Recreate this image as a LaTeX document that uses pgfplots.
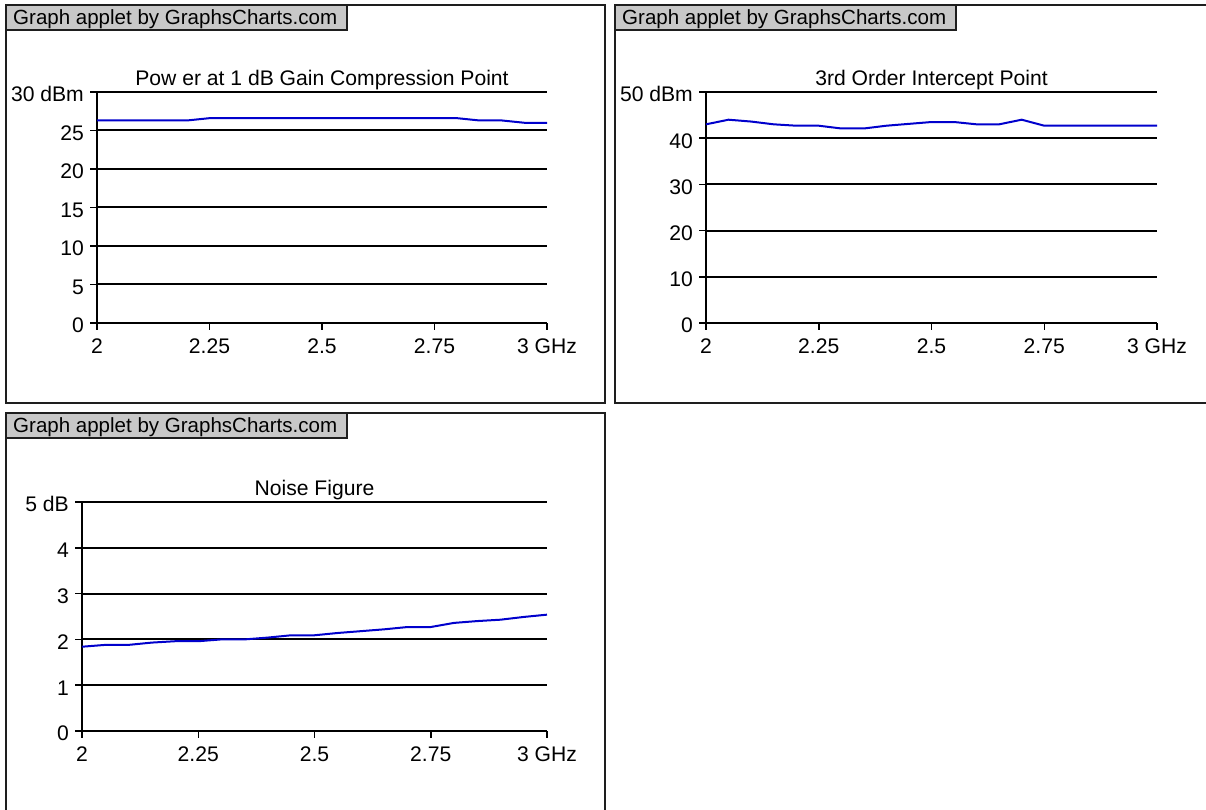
\documentclass[border=0pt]{standalone}
\usepackage{fontspec}
\setmainfont{Liberation Sans}
\usepackage{pgfplots}
\usepackage{pgfplotstable}
\pgfplotsset{compat=1.18}
\definecolor{linecol}{RGB}{0,0,204}
\definecolor{boxgray}{RGB}{200,200,200}
\definecolor{framecol}{RGB}{30,30,30}
\pgfplotsset{
  panel/.style={
    scale only axis,
    anchor=south west,
    axis x line=bottom,
    axis y line=left,
    axis line style={-, black, line width=2bp},
    xmin=2, xmax=3,
    xtick={2,2.25,2.5,2.75,3},
    tick align=outside,
    major tick length=7bp,
    tick style={black, line width=1.5bp},
    ymajorgrids,
    grid style={black, line width=2bp},
    font=\fontsize{21.2}{24}\selectfont,
    ticklabel style={font=\fontsize{21.2}{24}\selectfont, inner sep=0pt},
    xticklabel style={anchor=base, yshift=-24bp},
    yticklabel style={anchor=base east, xshift=-6bp, yshift=-10bp},
    title style={at={(0.5,1)}, anchor=base, yshift=1bp, inner sep=0pt, font=\fontsize{21.2}{24}\selectfont},
    clip=false,
  },
  dataline/.style={linecol, line width=2bp, no marks},
}
\pgfplotstableread{
x y
2.00 26.3
2.05 26.3
2.10 26.3
2.15 26.3
2.20 26.3
2.25 26.6
2.30 26.6
2.35 26.6
2.40 26.6
2.45 26.6
2.50 26.6
2.55 26.6
2.60 26.6
2.65 26.6
2.70 26.6
2.75 26.6
2.80 26.6
2.85 26.3
2.90 26.3
2.95 26.0
3.00 26.0
}\powertable
\pgfplotstableread{
x y
2.00 43.0
2.05 44.0
2.10 43.6
2.15 43.0
2.20 42.7
2.25 42.7
2.30 42.1
2.35 42.1
2.40 42.7
2.45 43.1
2.50 43.5
2.55 43.5
2.60 43.0
2.65 43.0
2.70 44.0
2.75 42.7
2.80 42.7
2.85 42.7
2.90 42.7
2.95 42.7
3.00 42.7
}\iptable
\pgfplotstableread{
x y
2.00 1.84
2.05 1.88
2.10 1.88
2.15 1.93
2.20 1.96
2.25 1.96
2.30 2.00
2.35 2.00
2.40 2.04
2.45 2.09
2.50 2.09
2.55 2.14
2.60 2.18
2.65 2.22
2.70 2.27
2.75 2.27
2.80 2.36
2.85 2.40
2.90 2.43
2.95 2.49
3.00 2.54
}\nftable
\begin{document}
\begin{tikzpicture}[x=1bp,y=1bp]
\path[use as bounding box] (0,0) rectangle (1206,810);
% panel frames
\draw[framecol, line width=2bp] (6,805) rectangle (605,407);
\draw[framecol, line width=2bp] (615,805) rectangle (1215,407);
\draw[framecol, line width=2bp] (6,397) rectangle (605,-10);
% header boxes
\draw[framecol, fill=boxgray, line width=1.5bp] (6,805) rectangle (347,780);
\node[anchor=base west, inner sep=0pt, font=\fontsize{20.6}{24}\selectfont] at (13,785) {Graph applet by GraphsCharts.com};
\draw[framecol, fill=boxgray, line width=1.5bp] (615,805) rectangle (956,780);
\node[anchor=base west, inner sep=0pt, font=\fontsize{20.6}{24}\selectfont] at (622,785) {Graph applet by GraphsCharts.com};
\draw[framecol, fill=boxgray, line width=1.5bp] (6,397) rectangle (347,372);
\node[anchor=base west, inner sep=0pt, font=\fontsize{20.6}{24}\selectfont] at (13,377) {Graph applet by GraphsCharts.com};

\begin{axis}[panel, at={(97bp,487bp)}, width=450bp, height=231bp,
  ymin=0, ymax=30, ytick={0,5,10,15,20,25,30},
  yticklabels={0,5,10,15,20,25,30 dBm},
  xticklabels={2,2.25,2.5,2.75,3 GHz},
  title={Pow er at 1 dB Gain Compression Point}]
\addplot[dataline] table[x=x,y=y] {\powertable};
\end{axis}

\begin{axis}[panel, at={(706bp,487bp)}, width=451bp, height=231bp,
  ymin=0, ymax=50, ytick={0,10,20,30,40,50},
  yticklabels={0,10,20,30,40,50 dBm},
  xticklabels={2,2.25,2.5,2.75,3 GHz},
  title={3rd Order Intercept Point}]
\addplot[dataline] table[x=x,y=y] {\iptable};
\end{axis}

\begin{axis}[panel, at={(82bp,79bp)}, width=465bp, height=229bp,
  ymin=0, ymax=5, ytick={0,1,2,3,4,5},
  yticklabels={0,1,2,3,4,5 dB},
  xticklabels={2,2.25,2.5,2.75,3 GHz},
  title={Noise Figure}]
\addplot[dataline] table[x=x,y=y] {\nftable};
\end{axis}
\end{tikzpicture}
\end{document}
